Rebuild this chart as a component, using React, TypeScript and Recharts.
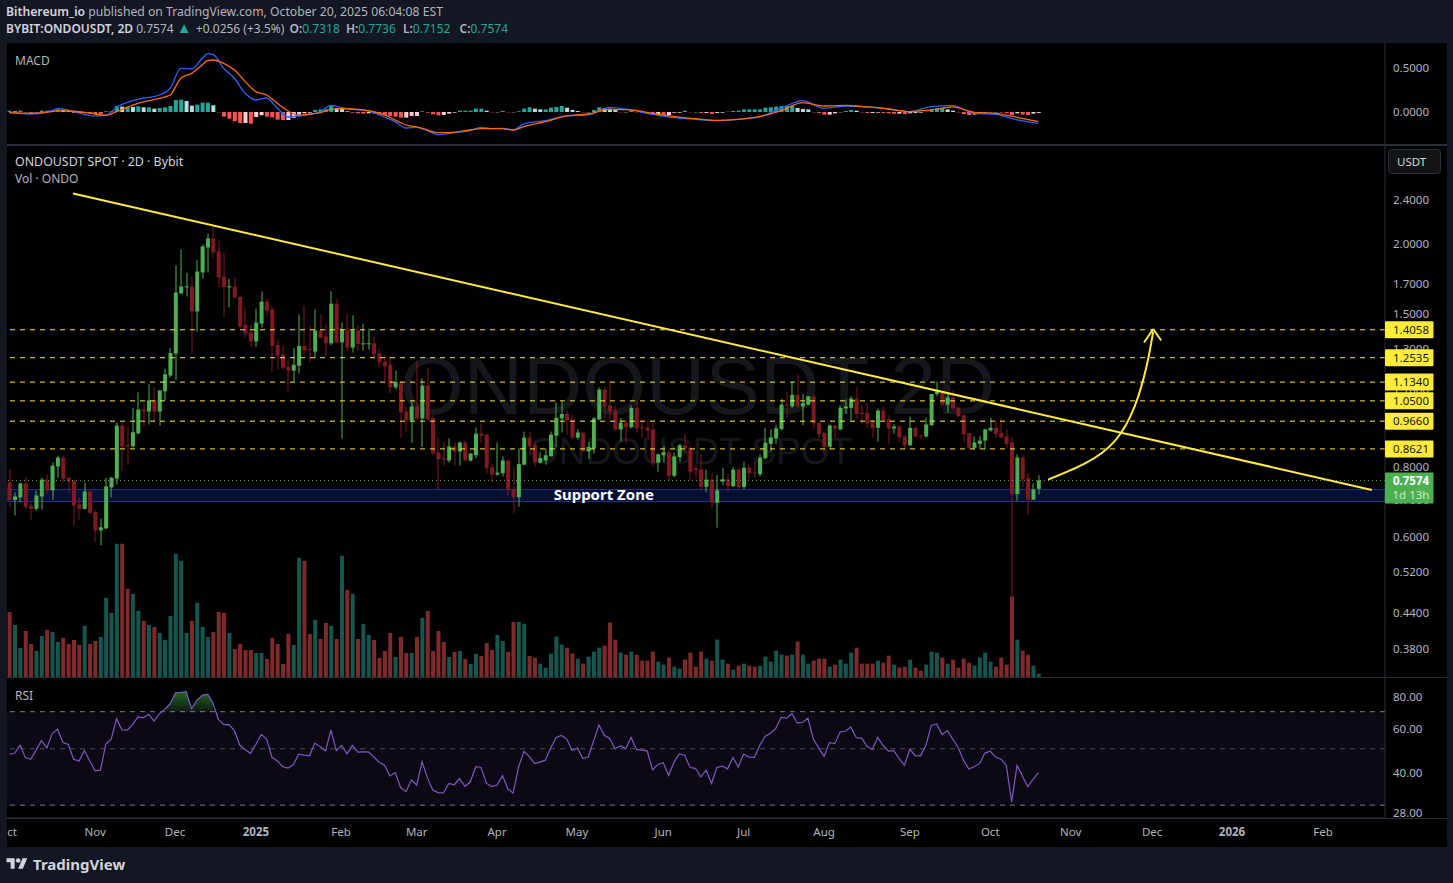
import React from "react";
import {
  Area,
  Bar,
  Cell,
  ComposedChart,
  Line,
  ReferenceArea,
  ReferenceDot,
  ReferenceLine,
  XAxis,
  YAxis,
} from "recharts";

// open, high, low, close per 2D candle
const ohlc = [
  [.752,.794,.680,.699],[.699,.721,.656,.709],[.706,.750,.692,.748],[.748,.769,.674,.680],[.683,.692,.645,.674],
  [.674,.727,.669,.712],[.709,.766,.672,.760],[.760,.778,.715,.727],[.727,.816,.700,.805],[.802,.839,.766,.832],
  [.832,.839,.751,.763],[.766,.769,.718,.754],[.757,.760,.627,.683],[.686,.706,.645,.674],[.674,.751,.672,.724],
  [.724,.727,.660,.663],[.666,.672,.588,.617],[.617,.648,.580,.625],[.622,.766,.620,.739],[.736,.769,.706,.766],
  [.763,.961,.745,.949],[.949,.961,.789,.871],[.875,.945,.807,.870],[.871,1.02,.867,.923],[.919,1.087,.915,1.013],
  [1.013,1.039,.945,1.005],[1.005,1.124,.953,1.052],[1.052,1.110,.961,1.005],[1.005,1.096,.949,1.096],[1.092,1.199,1.052,1.170],
  [1.165,1.304,1.156,1.278],[1.275,1.830,1.142,1.638],[1.632,1.955,1.630,1.679],[1.676,1.777,1.612,1.680],[1.679,1.748,1.277,1.516],
  [1.516,1.870,1.396,1.786],[1.778,1.995,1.735,1.979],[1.971,2.086,1.778,2.045],[2.045,2.149,1.892,1.931],[1.939,2.028,1.675,1.742],
  [1.748,1.931,1.479,1.675],[1.675,1.735,1.541,1.680],[1.679,1.742,1.603,1.604],[1.610,1.612,1.420,1.425],[1.436,1.541,1.363,1.385],
  [1.390,1.436,1.312,1.340],[1.340,1.534,1.312,1.448],[1.442,1.646,1.419,1.578],[1.578,1.598,1.491,1.522],[1.528,1.547,1.184,1.315],
  [1.320,1.351,1.193,1.265],[1.270,1.319,1.193,1.203],[1.208,1.249,1.092,1.189],[1.189,1.304,1.137,1.218],[1.213,1.497,1.175,1.315],
  [1.315,1.553,1.270,1.291],[1.300,1.425,1.234,1.295],[1.285,1.528,1.250,1.402],[1.402,1.496,1.360,1.360],[1.368,1.442,1.260,1.330],
  [1.330,1.646,1.320,1.565],[1.565,1.598,1.330,1.335],[1.335,1.448,.899,1.408],[1.408,1.503,1.286,1.307],[1.307,1.491,1.280,1.402],
  [1.402,1.430,1.291,1.326],[1.326,1.442,1.291,1.330],[1.326,1.413,1.296,1.330],[1.330,1.367,1.250,1.272],[1.277,1.300,1.203,1.230],
  [1.234,1.265,1.133,1.210],[1.218,1.260,1.083,1.110],[1.110,1.189,1.100,1.133],[1.133,1.137,.903,1.001],[1.005,1.026,.926,.969],
  [.969,1.048,.884,1.026],[1.026,1.234,.973,.977],[.977,1.151,.869,1.118],[1.118,1.203,.969,.973],[.977,.990,.840,.846],
  [.850,.900,.730,.826],[.830,.888,.805,.826],[.822,.900,.815,.871],[.871,.885,.805,.853],[.853,.888,.805,.885],
  [.885,.892,.818,.822],[.822,.846,.818,.846],[.840,.942,.830,.918],[.918,.958,.885,.910],[.914,.918,.780,.796],
  [.800,.810,.750,.776],[.776,.885,.772,.782],[.780,.836,.770,.822],[.822,.826,.712,.727],[.730,.800,.663,.707],
  [.707,.864,.680,.810],[.808,.926,.806,.903],[.903,.926,.840,.871],[.875,.892,.800,.815],[.815,.850,.812,.830],
  [.822,.864,.808,.840],[.836,.926,.836,.914],[.910,1.044,.868,.980],[.977,1.048,.922,.995],[.995,1.009,.914,.969],
  [.973,.990,.896,.903],[.903,.935,.896,.922],[.922,.922,.853,.853],[.853,.888,.826,.869],[.864,.983,.846,.977],
  [.973,1.110,.969,1.100],[1.100,1.110,.973,1.026],[1.030,1.137,.973,1.005],[1.009,1.030,.926,.934],[.934,.980,.888,.960],
  [.960,.973,.885,.942],[.942,1.030,.938,1.020],[1.020,1.052,.922,.938],[.942,.973,.903,.938],[.942,.969,.896,.930],
  [.934,.958,.805,.815],[.815,.846,.785,.843],[.840,.871,.815,.850],[.850,.861,.757,.772],[.772,.850,.768,.836],
  [.833,.880,.818,.875],[.875,.918,.850,.864],[.866,.870,.757,.785],[.797,.806,.766,.790],[.792,.843,.727,.738],
  [.738,.792,.722,.760],[.760,.780,.675,.691],[.691,.775,.624,.727],[.754,.798,.742,.761],[.761,.778,.722,.740],
  [.740,.800,.737,.792],[.792,.798,.733,.737],[.737,.818,.730,.798],[.798,.810,.760,.780],[.783,.818,.767,.780],
  [.777,.843,.770,.832],[.830,.940,.825,.885],[.880,.935,.853,.904],[.900,.950,.880,.938],[.935,1.060,.930,1.034],
  [1.034,1.090,.980,1.030],[1.026,1.134,1.020,1.076],[1.076,1.170,1.020,1.026],[1.026,1.080,.950,1.040],[1.034,1.070,1.030,1.070],
  [1.070,1.080,.935,.957],[.960,.960,.900,.915],[.920,.925,.843,.870],[.870,.953,.860,.949],[.949,.950,.900,.937],
  [.934,1.030,.930,1.020],[1.018,1.056,.995,1.026],[1.020,1.070,.969,1.060],[1.060,1.110,.975,.995],[1.000,1.030,.953,.995],
  [1.000,1.040,.940,.957],[.960,.973,.904,.940],[.940,1.018,.888,1.009],[1.009,1.026,.965,.969],[.973,.990,.880,.937],
  [.937,.953,.918,.945],[.945,.950,.888,.904],[.907,.915,.860,.875],[.875,.985,.873,.940],[.940,.945,.904,.907],
  [.910,.915,.896,.907],[.907,.980,.904,.953],[.950,1.080,.948,1.080],[1.080,1.137,1.070,1.096],[1.090,1.090,1.030,1.034],
  [1.034,1.080,1.000,1.065],[1.065,1.096,1.014,1.018],[1.022,1.022,.985,.985],[.990,.995,.888,.915],[.920,.920,.860,.866],
  [.866,.907,.860,.885],[.880,.910,.863,.892],[.892,.937,.860,.934],[.930,.980,.925,.940],[.940,.969,.904,.915],
  [.920,.977,.900,.904],[.907,.934,.866,.880],[.885,.904,.470,.716],[.716,.843,.697,.832],[.832,.840,.737,.761],
  [.765,.780,.660,.700],[.700,.748,.700,.730],[.7318,.7736,.7152,.7574],
];

// traded volume per candle, in units of 100k ONDO
const volumes = [
  195,156,87,138,99,78,123,141,135,105,117,99,111,96,153,99,108,120,237,192,399,399,264,249,198,168,156,150,132,111,183,369,348,132,168,222,150,120,135,195,192,132,84,99,81,81,72,72,54,117,99,39,129,96,357,348,129,171,114,162,153,114,363,261,249,114,159,126,111,57,78,132,60,120,72,72,120,177,198,78,138,105,60,75,78,54,39,69,63,102,81,126,108,75,165,165,159,63,
  58,40,28,70,121,97,88,70,55,40,61,76,88,94,163,112,73,67,76,67,49,49,76,46,37,58,31,25,52,73,31,76,55,49,112,52,40,22,34,40,34,31,34,61,46,79,67,64,67,106,67,40,49,55,55,31,37,52,40,73,88,40,40,40,49,43,64,37,28,31,52,28,19,37,76,73,58,40,52,28,55,43,34,58,73,46,31,58,37,241,112,79,67,34,10,
];

const macdHist = [
  .015,.008,.015,-.004,-.011,-.004,.015,.015,.023,.030,.027,.019,-.011,-.011,-.008,-.015,-.023,-.027,.008,.008,
  .068,.061,.061,.057,.064,.053,.053,.038,.045,.053,.068,.136,.140,.125,.072,.083,.106,.106,.076,-.004,
  -.053,-.076,-.106,-.125,-.125,-.133,-.057,-.038,-.053,-.061,-.087,-.091,-.091,-.068,-.030,-.015,-.008,.023,.030,.030,
  .068,.045,.038,.008,-.008,-.015,-.019,-.015,-.019,-.030,-.038,-.045,-.053,-.064,-.064,-.045,-.045,.008,-.008,-.027,
  -.038,-.034,-.019,-.008,.015,.015,.015,.038,.038,.015,-.004,-.004,.011,-.004,-.004,.008,
  .038,.053,.038,.030,.030,.049,.057,.068,.049,.023,.011,-.004,-.004,.023,.053,.042,.038,.023,-.004,-.004,
  .019,-.004,-.004,-.019,-.030,-.030,-.038,-.038,-.008,-.008,.015,-.004,-.004,-.011,-.011,-.023,-.011,-.008,.004,.011,
  .015,.030,.030,.030,.030,.049,.053,.061,.068,.068,.068,.045,.034,.030,-.004,-.011,-.030,-.030,-.015,-.004,
  .011,.023,.015,-.004,-.011,-.011,-.008,-.011,-.015,-.019,-.019,-.023,-.015,-.011,-.008,.004,.030,.042,.045,.030,
  .015,-.004,-.023,-.034,-.030,-.011,-.008,-.004,-.004,-.004,-.011,-.034,-.015,-.030,-.034,-.019,-.011,
];

// MACD and signal lines, read at these candle numbers
const macdAt = [0,4,8,9,12,16,18,20,24,28,30,32,34,36,37,38,40,42,44,46,48,50,52,54,56,58,60,62,64,66,68,70,72,74,76,78,80,82,84,86,88,90,92,94,96,100,104,108,112,116,120,124,128,132,136,140,144,148,152,156,160,164,168,172,176,180,184,188,192];
const macdLine = [-.008,-.023,.015,.042,.004,-.045,-.038,.053,.144,.193,.269,.496,.489,.610,.663,.655,.496,.383,.212,.136,.159,.042,-.057,-.045,-.030,0,.076,.049,.030,.023,-.008,-.057,-.110,-.182,-.174,-.212,-.258,-.246,-.227,-.212,-.174,-.189,-.186,-.205,-.136,-.098,-.045,-.034,.053,.023,-.027,-.064,-.083,-.098,-.083,-.053,.042,.129,.042,.068,.057,.034,.004,.061,.072,-.015,-.027,-.091,-.129];
const signalLine = [-.008,-.015,.004,.015,.008,-.023,-.038,.004,.098,.155,.193,.383,.439,.535,.583,.591,.553,.477,.345,.231,.193,.098,.011,-.038,-.023,-.008,.030,.038,.034,.023,.004,-.034,-.091,-.148,-.170,-.205,-.235,-.235,-.223,-.205,-.189,-.189,-.189,-.205,-.167,-.110,-.045,-.023,.030,.023,-.015,-.053,-.076,-.095,-.083,-.053,.015,.106,.068,.076,.057,.034,.004,.023,.057,-.004,-.015,-.061,-.110];

const rsi = [
  47.6,48,51.6,46.2,45.5,49.4,53.9,50.4,57.4,59.7,52.9,52,45.5,44.8,49.2,44.8,40.9,41.2,52.1,54.6,
  65.7,59.3,59.2,62.2,66.7,66.3,68.3,64.3,68.7,71.5,75.2,83.1,83.5,83.9,71.9,77.7,81.2,82,75.5,65.3,
  62.2,62.2,58.8,51.6,49.7,48,52.1,57,54.6,46.3,44.8,42.5,42,43.4,47.6,47.2,46.9,52.6,51,49,
  59.3,49.2,51.6,47.8,51.6,48.5,48.6,48.6,46.4,44.3,43.1,39.1,40.3,35.2,33.9,37.7,36,44.5,38.5,34.4,
  33.6,33.5,36.5,36.1,38.2,35.6,37,42.5,42.2,36.6,35.5,36,39.2,34.7,33.5,42.4,48.9,46.6,
  43.7,44.3,45.1,50.4,55.4,56.4,54.6,49.2,50.3,45.8,46.4,53.7,62,56.5,54.9,50,51.3,50.1,55.4,49.7,
  49.4,49.1,41.3,43.4,44.1,39.3,44.3,47.7,47.2,42.2,41.9,38.8,41.2,36.5,42.2,42.7,41.7,46.2,42.4,47.7,
  46.4,46.3,51.6,55.9,57.6,60.2,66.5,66.1,68.7,63.2,63.6,65.9,54.6,50.4,46.7,52.9,52.4,58.3,58.6,61,
  55.3,55.1,51.2,49.7,55.4,51.6,49,49.2,45.8,43.1,49.8,47,46.9,51.6,61.8,62.6,56.9,59,54.6,50.7,
  45.1,41.6,42.5,43.7,48.1,48.9,46.4,45.5,43,30.9,43,39.1,35.5,38,40.3,
];

// month ticks sit at fractional candle numbers since candles are two days long
const timeTicks = [0.5,16,30.9,46,61.9,76,91,105.9,122,137,152,168,183,198,213.2,228.1,245.1];
const timeLabels = ["ct","Nov","Dec","2025","Feb","Mar","Apr","May","Jun","Jul","Aug","Sep","Oct","Nov","Dec","2026","Feb"];

const priceTicks = [2.4,2,1.7,1.5,1.3,1.1,0.8,0.7,0.6,0.52,0.44,0.38];
const levels = [1.4058,1.2535,1.134,1.05,0.966,0.8621];
const lastPrice = 0.7574;
const supportZone = [0.6945,0.73];
const trendline = [{ x: 11.88, y: 2.46 }, { x: 254.2, y: 0.7285 }];
const arrowCurve = [
  { i: 193.8, p: 0.76 },
  { i: 200.7, p: 0.812 },
  { i: 206.3, p: 0.892 },
  { i: 210, p: 1.03 },
  { i: 212.2, p: 1.214 },
  { i: 213.4, p: 1.395 },
];
const arrowHead = [{ x: 211.7, y: 1.334 }, { x: 213.4, y: 1.41 }, { x: 214.9, y: 1.345 }];

const UP = "#4caf50";
const DOWN = "#801922";
const AXIS_TEXT = "#b2b5be";
const BORDER = "#2a2e39";
const NAVY = "#131722";
const UI_FONT = "'Noto Sans', sans-serif";
const X_DOMAIN = [-0.435, 256.65];
const PRICE_DOMAIN = [0.338, 2.989];
const CHART_W = 1440;
const AXIS_W = 62;

const table = ohlc.map((c, i) => ({
  i,
  range: [c[2], c[1]],
  open: c[0],
  high: c[1],
  low: c[2],
  close: c[3],
  vol: volumes[i],
  hist: macdHist[i],
  macd: macdAt.includes(i) ? macdLine[macdAt.indexOf(i)] : undefined,
  signal: macdAt.includes(i) ? signalLine[macdAt.indexOf(i)] : undefined,
  rsi: rsi[i],
  overbought: rsi[i] >= 70 ? [70, rsi[i]] : null,
}));

function histColor(i: number) {
  const v = macdHist[i];
  const rising = i === 0 || v >= macdHist[i - 1];
  if (v >= 0) return rising ? "#26a69a" : "#b2dfdb";
  return rising ? "#ffcdd2" : "#ff5252";
}

// wick comes from the bar's range, body is placed on the same log scale
function Candle(props: any) {
  const { x, y, width, height, payload } = props;
  const up = payload.close >= payload.open;
  const color = up ? UP : DOWN;
  const span = Math.log(payload.high / payload.low);
  const at = (v: number) => y + (height * Math.log(payload.high / v)) / span;
  const top = at(Math.max(payload.open, payload.close));
  const bottom = at(Math.min(payload.open, payload.close));
  const cx = x + width / 2;
  return (
    <g>
      <rect x={Math.round(cx) - 0.5} y={y} width={1} height={height} fill={color} />
      <rect x={cx - 2} y={top} width={4} height={Math.max(bottom - top, 1)} fill={color} />
    </g>
  );
}

function LevelBadge(props: any) {
  const { viewBox, text } = props;
  const x = viewBox.x + viewBox.width;
  return (
    <g>
      <rect x={x} y={viewBox.y - 8.5} width={48.5} height={17} rx={1} fill="#ffeb3b" />
      <text x={x + 26} y={viewBox.y + 4} textAnchor="middle" fontSize={11.5} fontFamily={UI_FONT} fill="#131722">
        {text}
      </text>
    </g>
  );
}

function LastBadge(props: any) {
  const { viewBox } = props;
  const x = viewBox.x + viewBox.width;
  return (
    <g>
      <rect x={x} y={viewBox.y - 8} width={48.5} height={31} rx={1} fill={UP} />
      <text x={x + 26} y={viewBox.y + 5} textAnchor="middle" fontSize={11.5} fontWeight={700} fontFamily={UI_FONT} fill="#fff">
        {lastPrice.toFixed(4)}
      </text>
      <text x={x + 26} y={viewBox.y + 19} textAnchor="middle" fontSize={11.5} fontFamily={UI_FONT} fill="#cdeccf">
        1d 13h
      </text>
    </g>
  );
}

function TimeTick(props: any) {
  const { x, y, payload } = props;
  const label = timeLabels[timeTicks.indexOf(payload.value)];
  const year = label.length === 4;
  return (
    <text x={x} y={y + 10} textAnchor="middle" fontSize={11.5} fontWeight={year ? 700 : 400} fontFamily={UI_FONT} fill={AXIS_TEXT}>
      {label}
    </text>
  );
}

const axisTick = { fill: AXIS_TEXT, fontSize: 11.5, fontFamily: UI_FONT };

function PaneLabel({ x, y, size = 12, color = AXIS_TEXT, children }: any) {
  return (
    <div style={{ position: "absolute", left: x, top: y, fontSize: size, color, fontFamily: UI_FONT, whiteSpace: "nowrap", lineHeight: "16px" }}>
      {children}
    </div>
  );
}

export default function App() {
  return (
    <div style={{ position: "absolute", left: 0, top: 0, width: 1453, height: 883, background: NAVY, overflow: "hidden" }}>
      {/* black pane background, right edge of the axis column */}
      <div style={{ position: "absolute", left: 7, top: 43, width: 1440, height: 804, background: "#000" }} />

      {/* header */}
      <div style={{ position: "absolute", left: 6, top: 3, fontSize: 12.2, lineHeight: "18px", color: AXIS_TEXT, fontFamily: UI_FONT, whiteSpace: "nowrap" }}>
        <b style={{ color: "#d1d4dc", fontWeight: 600 }}>Bithereum_io</b> published on TradingView.com, October 20, 2025 06:04:08 EST
      </div>
      <div style={{ position: "absolute", left: 6, top: 20, height: 18, fontSize: 12, lineHeight: "18px", color: AXIS_TEXT, fontFamily: UI_FONT, whiteSpace: "nowrap" }}>
        <b style={{ color: "#d1d4dc", fontWeight: 600 }}>BYBIT:ONDOUSDT, 2D</b> 0.7574{" "}
        <span style={{ color: "#26a69a", fontSize: 15, lineHeight: "15px", marginRight: 1 }}>▲</span> +0.0256 (+3.5%){" "}
        <b style={{ fontWeight: 600, marginLeft: 2 }}>O:</b><span style={{ color: "#26a69a" }}>0.7318</span>{" "}
        <b style={{ fontWeight: 600, marginLeft: 3 }}>H:</b><span style={{ color: "#26a69a" }}>0.7736</span>{" "}
        <b style={{ fontWeight: 600, marginLeft: 4 }}>L:</b><span style={{ color: "#26a69a" }}>0.7152</span>{" "}
        <b style={{ fontWeight: 600, marginLeft: 6 }}>C:</b><span style={{ color: "#26a69a" }}>0.7574</span>
      </div>

      {/* watermark sits behind the price chart */}
      <div style={{ position: "absolute", left: 400, top: 340, fontSize: 82, lineHeight: "92px", color: "#15171c", fontFamily: "'Liberation Sans', sans-serif", whiteSpace: "nowrap" }}>
        ONDOUSDT 2D
      </div>
      <div style={{ position: "absolute", left: 530, top: 430, fontSize: 37, lineHeight: "44px", color: "#15171c", fontFamily: "'Liberation Sans', sans-serif", whiteSpace: "nowrap" }}>
        ONDOUSDT SPOT
      </div>

      {/* pane dividers */}
      <div style={{ position: "absolute", left: 7, top: 144, width: 1440, height: 2, background: BORDER }} />
      <div style={{ position: "absolute", left: 7, top: 677, width: 1440, height: 1, background: BORDER }} />
      <div style={{ position: "absolute", left: 7, top: 818, width: 1440, height: 1, background: BORDER }} />

      {/* MACD */}
      <div style={{ position: "absolute", left: 7, top: 43 }}>
        <ComposedChart width={CHART_W} height={101} data={table} margin={{ top: 0, right: 0, bottom: 0, left: 0 }}>
          <XAxis dataKey="i" type="number" domain={X_DOMAIN} allowDataOverflow hide />
          <YAxis orientation="right" width={AXIS_W} domain={[-0.364, 0.784]} ticks={[0.5, 0]} allowDataOverflow tickLine={false} stroke={BORDER} tick={axisTick} tickMargin={2} tickFormatter={(v: number) => v.toFixed(4)} />
          <Bar dataKey="hist" barSize={4} isAnimationActive={false}>
            {table.map((r) => (
              <Cell key={r.i} fill={histColor(r.i)} />
            ))}
          </Bar>
          <Line dataKey="macd" type="monotone" connectNulls dot={false} stroke="#2962ff" strokeWidth={1.3} isAnimationActive={false} />
          <Line dataKey="signal" type="monotone" connectNulls dot={false} stroke="#ff6d00" strokeWidth={1.3} isAnimationActive={false} />
        </ComposedChart>
      </div>

      {/* price and volume */}
      <div style={{ position: "absolute", left: 7, top: 146 }}>
        <ComposedChart width={CHART_W} height={531} data={table} margin={{ top: 0, right: 0, bottom: 0, left: 0 }}>
          <XAxis dataKey="i" type="number" domain={X_DOMAIN} allowDataOverflow hide />
          <XAxis xAxisId="vol" dataKey="i" type="number" domain={X_DOMAIN} allowDataOverflow hide />
          <YAxis orientation="right" width={AXIS_W} scale="log" domain={PRICE_DOMAIN} ticks={priceTicks} allowDataOverflow tickLine={false} stroke={BORDER} tick={axisTick} tickMargin={2} interval={0} tickFormatter={(v: number) => v.toFixed(4)} />
          <YAxis yAxisId="vol" hide domain={[0, 1590]} allowDataOverflow />
          <ReferenceArea y1={supportZone[0]} y2={supportZone[1]} fill="#040f33" fillOpacity={1} stroke="#1c3a8f" strokeWidth={1} />
          <Bar xAxisId="vol" yAxisId="vol" dataKey="vol" barSize={4} isAnimationActive={false}>
            {table.map((r) => (
              <Cell key={r.i} fill={r.close >= r.open ? "#15564f" : "#7f2a2a"} />
            ))}
          </Bar>
          <Bar dataKey="range" barSize={4} shape={<Candle />} isAnimationActive={false} />
          <ReferenceLine y={lastPrice} stroke={UP} strokeDasharray="1 3" />
          {levels.map((level) => (
            <ReferenceLine key={level} y={level} stroke="#ffeb3b" strokeDasharray="5 5" strokeWidth={1} />
          ))}
          <ReferenceLine segment={trendline} stroke="#ffeb3b" strokeWidth={2} />
          <Line data={arrowCurve} dataKey="p" type="natural" dot={false} stroke="#ffeb3b" strokeWidth={2} isAnimationActive={false} />
          <ReferenceLine segment={[arrowHead[0], arrowHead[1]]} stroke="#ffeb3b" strokeWidth={2} />
          <ReferenceLine segment={[arrowHead[1], arrowHead[2]]} stroke="#ffeb3b" strokeWidth={2} />
          <ReferenceDot
            x={110.9}
            y={0.714}
            r={0}
            fill="none"
            stroke="none"
            label={{ value: "Support Zone", position: "center", fill: "#fff", fontSize: 15, fontWeight: 700, fontFamily: UI_FONT }}
          />
        </ComposedChart>
      </div>

      {/* price badges in a second layer, they must cover the axis ticks */}
      <div style={{ position: "absolute", left: 7, top: 146 }}>
        <ComposedChart width={CHART_W} height={531} data={table} margin={{ top: 0, right: 0, bottom: 0, left: 0 }}>
          <XAxis dataKey="i" type="number" domain={X_DOMAIN} allowDataOverflow hide />
          <YAxis orientation="right" width={AXIS_W} scale="log" domain={PRICE_DOMAIN} allowDataOverflow tick={false} tickLine={false} axisLine={false} />
          <ReferenceLine y={lastPrice} stroke="none" label={<LastBadge />} />
          {levels.map((level) => (
            <ReferenceLine key={level} y={level} stroke="none" label={<LevelBadge text={level.toFixed(4)} />} />
          ))}
        </ComposedChart>
      </div>

      {/* RSI with the time axis under it */}
      <div style={{ position: "absolute", left: 7, top: 678 }}>
        <ComposedChart width={CHART_W} height={169} data={table} margin={{ top: 0, right: 0, bottom: 0, left: 0 }}>
          <defs>
            <linearGradient id="overbought" x1="0" y1="0" x2="0" y2="1">
              <stop offset="0%" stopColor="#2e7d32" stopOpacity={0.85} />
              <stop offset="100%" stopColor="#1b3a1d" stopOpacity={0.5} />
            </linearGradient>
          </defs>
          <XAxis dataKey="i" type="number" domain={X_DOMAIN} allowDataOverflow ticks={timeTicks} interval={0} height={29} tickLine={false} stroke={BORDER} tick={<TimeTick />} />
          <YAxis orientation="right" width={AXIS_W} scale="log" domain={[26.7, 95]} ticks={[80, 60, 40, 28]} allowDataOverflow tickLine={false} stroke={BORDER} tick={axisTick} tickMargin={2} interval={0} tickFormatter={(v: number) => v.toFixed(2)} />
          <ReferenceArea y1={30} y2={70} fill="#7e57c2" fillOpacity={0.1} stroke="none" />
          <ReferenceLine y={70} stroke="#787b86" strokeDasharray="5 5" />
          <ReferenceLine y={50} stroke="#787b86" strokeOpacity={0.6} strokeDasharray="5 5" />
          <ReferenceLine y={30} stroke="#787b86" strokeDasharray="5 5" />
          <Area dataKey="overbought" stroke="none" fill="url(#overbought)" fillOpacity={1} isAnimationActive={false} />
          <Line dataKey="rsi" dot={false} stroke="#7e57c2" strokeWidth={1.2} isAnimationActive={false} />
        </ComposedChart>
      </div>

      {/* pane captions */}
      <PaneLabel x={15} y={53}>MACD</PaneLabel>
      <PaneLabel x={15} y={154} size={12.4}>
        <span style={{ color: "#d1d4dc" }}>ONDOUSDT SPOT · 2D · Bybit</span>
      </PaneLabel>
      <PaneLabel x={15} y={171}>Vol · ONDO</PaneLabel>
      <PaneLabel x={15} y={688}>RSI</PaneLabel>

      {/* currency button */}
      <div style={{ position: "absolute", left: 1388, top: 149, width: 53, height: 25, boxSizing: "border-box", border: `1px solid ${BORDER}`, borderRadius: 4, background: "#131416", color: "#d1d4dc", fontSize: 11.5, fontFamily: UI_FONT, lineHeight: "23px", paddingLeft: 8 }}>
        USDT
      </div>

      {/* footer logo */}
      <svg style={{ position: "absolute", left: 6, top: 857 }} width={22} height={14} viewBox="0 0 36 24">
        <path d="M14 20H7V9H0V2h14v18zM28 20h-8l7.5-18h8L28 20z" fill="#d1d4dc" />
        <circle cx={20} cy={6} r={4} fill="#d1d4dc" />
      </svg>
      <div style={{ position: "absolute", left: 33, top: 853, fontSize: 15, lineHeight: "22px", fontWeight: 700, color: "#d1d4dc", fontFamily: UI_FONT }}>
        TradingView
      </div>
    </div>
  );
}
